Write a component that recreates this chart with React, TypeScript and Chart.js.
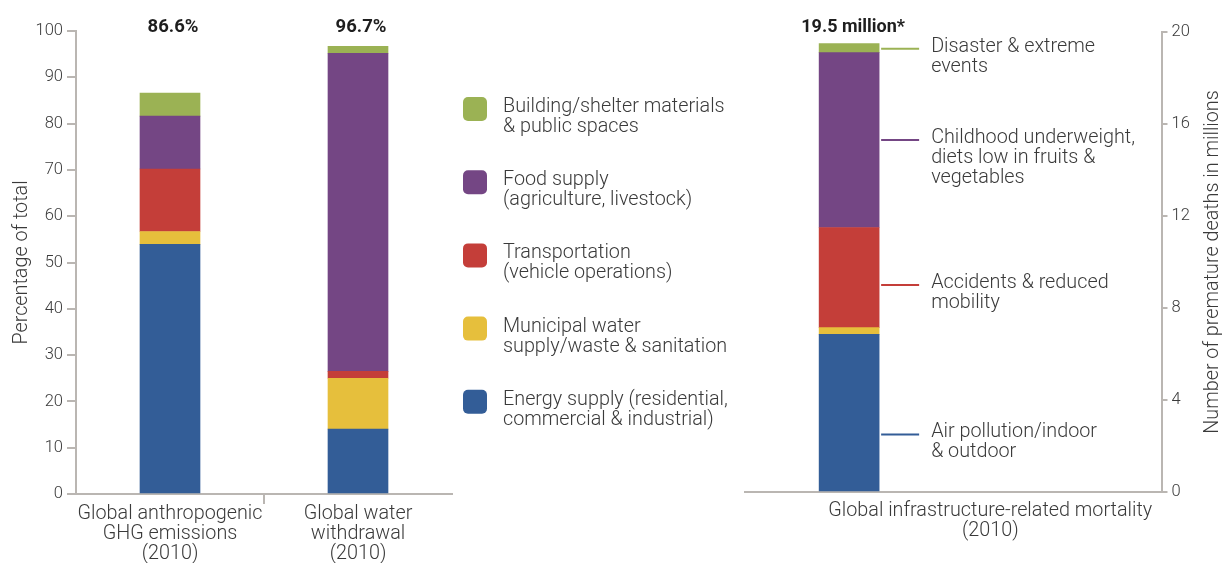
import React, { useEffect, useRef } from 'react';
import { Chart, registerables } from 'chart.js';

Chart.register(...registerables);

const FONT = 'Roboto, "Noto Sans", sans-serif';
const AXIS_COLOR = '#bab6b2';
const TEXT_COLOR = '#3a3a3a';
const LABEL_SIZE = 19.8;

// ---- Left panel data (percentage of total) ----
const leftCategories = [
  ['Global anthropogenic', 'GHG emissions', '(2010)'],
  ['Global water', 'withdrawal', '(2010)'],
];
const leftTotals = ['86.6%', '96.7%'];
const sectorNames = [
  'Energy supply (residential, commercial & industrial)',
  'Municipal water supply/waste & sanitation',
  'Transportation (vehicle operations)',
  'Food supply (agriculture, livestock)',
  'Building/shelter materials & public spaces',
];
const legendLines = [
  ['Energy supply (residential,', 'commercial & industrial)'],
  ['Municipal water', 'supply/waste & sanitation'],
  ['Transportation', '(vehicle operations)'],
  ['Food supply', '(agriculture, livestock)'],
  ['Building/shelter materials', '& public spaces'],
];
const sectorColors = ['#335d97', '#e6bf3c', '#c43e39', '#744684', '#9bb254'];
const energyValues = [53.9, 14.0];
const waterValues = [2.8, 11.0];
const transportValues = [13.5, 1.5];
const foodValues = [11.4, 68.7];
const buildingValues = [5.0, 1.5];
const leftYMax = 100;
const leftYStep = 10;
const leftYTitle = 'Percentage of total';

// ---- Right panel data (premature deaths, millions) ----
const mortalityCategory = ['Global infrastructure-related mortality', '(2010)'];
const mortalityTotal = '19.5 million*';
const airPollutionDeaths = 6.85;
const sanitationDeaths = 0.3;
const accidentDeaths = 4.35;
const dietDeaths = 7.6;
const disasterDeaths = 0.4;
const mortalityLabels = [
  ['Air pollution/indoor', '& outdoor'],
  [],
  ['Accidents & reduced', 'mobility'],
  ['Childhood underweight,', 'diets low in fruits &', 'vegetables'],
  ['Disaster & extreme', 'events'],
];
const mortalityLabelAnchors = [2.5, null, 9.0, 15.3, 19.27];
const rightYMax = 20;
const rightYStep = 4;
const rightYTitle = 'Number of premature deaths in millions';

const leftSeries = [energyValues, waterValues, transportValues, foodValues, buildingValues];
const rightSeries = [airPollutionDeaths, sanitationDeaths, accidentDeaths, dietDeaths, disasterDeaths];

const leftDecor = {
  id: 'leftDecor',
  afterDraw(chart: any) {
    const { ctx, chartArea } = chart;
    ctx.save();
    // totals above bars
    ctx.font = `bold 18.5px ${FONT}`;
    ctx.fillStyle = '#1e1e1e';
    ctx.textAlign = 'center';
    ctx.textBaseline = 'middle';
    const meta = chart.getDatasetMeta(0);
    leftTotals.forEach((t, i) => {
      const bar = meta.data[i];
      ctx.fillText(t, bar.x + 3, chartArea.top - 4);
    });
    // legend (top to bottom = reversed stack order)
    const n = chart.data.datasets.length;
    for (let k = 0; k < n; k++) {
      const di = n - 1 - k;
      const ds = chart.data.datasets[di];
      const x = chartArea.right + 11;
      const y = 97 + k * 73.2;
      ctx.fillStyle = ds.backgroundColor;
      ctx.beginPath();
      (ctx as any).roundRect(x, y, 24, 24, 5);
      ctx.fill();
      ctx.fillStyle = TEXT_COLOR;
      ctx.font = `300 ${LABEL_SIZE}px ${FONT}`;
      ctx.textAlign = 'left';
      ctx.textBaseline = 'middle';
      legendLines[di].forEach((line, j) => {
        ctx.fillText(line, x + 40, y + 10 + j * 20);
      });
    }
    ctx.restore();
  },
};

const rightDecor = {
  id: 'rightDecor',
  afterDraw(chart: any) {
    const { ctx, chartArea } = chart;
    ctx.save();
    const bar0 = chart.getDatasetMeta(0).data[0];
    ctx.font = `bold 18px ${FONT}`;
    ctx.fillStyle = '#1e1e1e';
    ctx.textAlign = 'center';
    ctx.textBaseline = 'middle';
    ctx.fillText(mortalityTotal, bar0.x + 4, chartArea.top - 5);

    const yScale = chart.scales.y;
    chart.data.datasets.forEach((ds: any, i: number) => {
      const anchor = mortalityLabelAnchors[i];
      if (anchor == null) return;
      const y = yScale.getPixelForValue(anchor);
      const x0 = bar0.x + bar0.width / 2 + 2;
      ctx.strokeStyle = ds.backgroundColor;
      ctx.lineWidth = 2;
      ctx.beginPath();
      ctx.moveTo(x0, y);
      ctx.lineTo(x0 + 38, y);
      ctx.stroke();
      ctx.fillStyle = TEXT_COLOR;
      ctx.font = `300 ${LABEL_SIZE}px ${FONT}`;
      ctx.textAlign = 'left';
      ctx.textBaseline = 'middle';
      mortalityLabels[i].forEach((line, j) => {
        ctx.fillText(line, x0 + 50, y - 2 + j * 20);
      });
    });

    // category label
    ctx.fillStyle = TEXT_COLOR;
    ctx.font = `300 ${LABEL_SIZE}px ${FONT}`;
    ctx.textAlign = 'center';
    ctx.textBaseline = 'middle';
    const cx = (chartArea.left + chartArea.right) / 2 + 37;
    mortalityCategory.forEach((line, j) => {
      ctx.fillText(line, cx, chartArea.bottom + 19 + j * 20);
    });

    // right axis title (reads bottom to top)
    ctx.save();
    ctx.translate(chart.width - 9, (chartArea.top + chartArea.bottom) / 2);
    ctx.rotate(-Math.PI / 2);
    ctx.fillText(rightYTitle, 0, 0);
    ctx.restore();
    ctx.restore();
  },
};

export default function App() {
  const leftRef = useRef<HTMLCanvasElement>(null);
  const rightRef = useRef<HTMLCanvasElement>(null);

  useEffect(() => {
    const left = new Chart(leftRef.current as HTMLCanvasElement, {
      type: 'bar',
      data: {
        labels: leftCategories as any,
        datasets: leftSeries.map((vals, i) => ({
          label: sectorNames[i],
          data: vals,
          backgroundColor: sectorColors[i],
          borderWidth: 0,
          barThickness: 60,
        })),
      },
      options: {
        responsive: false,
        animation: false,
        layout: { padding: { top: 31, left: 0, right: 288, bottom: 0 } },
        plugins: { legend: { display: false }, tooltip: { enabled: false } },
        scales: {
          x: {
            stacked: true,
            afterFit: (s: any) => { s.height = 69; },
            grid: {
              drawOnChartArea: false,
              tickLength: 10,
              lineWidth: 2,
              color: (c: any) => (c.index === 1 ? AXIS_COLOR : 'rgba(0,0,0,0)'),
            },
            border: { display: true, color: AXIS_COLOR, width: 2 },
            ticks: {
              color: TEXT_COLOR,
              padding: 0,
              maxRotation: 0,
              autoSkip: false,
              font: { family: FONT, size: LABEL_SIZE, weight: '300' as any, lineHeight: 20 / LABEL_SIZE },
            },
          },
          y: {
            stacked: true,
            min: 0,
            max: leftYMax,
            afterFit: (s: any) => { s.width = 76; },
            grid: { drawOnChartArea: false, tickLength: 9, lineWidth: 2, color: AXIS_COLOR },
            border: { display: true, color: AXIS_COLOR, width: 2 },
            ticks: {
              stepSize: leftYStep,
              color: TEXT_COLOR,
              padding: 4,
              font: { family: FONT, size: 16.5, weight: '300' as any },
            },
            title: {
              display: true,
              text: leftYTitle,
              color: TEXT_COLOR,
              padding: { top: 10, bottom: 0 },
              font: { family: FONT, size: LABEL_SIZE, weight: '300' as any },
            },
          },
        },
      },
      plugins: [leftDecor],
    });

    const right = new Chart(rightRef.current as HTMLCanvasElement, {
      type: 'bar',
      data: {
        labels: ['', ''],
        datasets: rightSeries.map((v, i) => ({
          label: sectorNames[i],
          data: [v, null],
          backgroundColor: sectorColors[i],
          borderWidth: 0,
          barThickness: 60,
        })),
      },
      options: {
        responsive: false,
        animation: false,
        layout: { padding: { top: 32, left: 45, right: 0, bottom: 0 } },
        plugins: { legend: { display: false }, tooltip: { enabled: false } },
        scales: {
          x: {
            stacked: true,
            afterFit: (s: any) => { s.height = 71; },
            grid: { display: true, drawOnChartArea: false, drawTicks: false, color: 'rgba(0,0,0,0)' },
            border: { display: true, color: AXIS_COLOR, width: 2 },
            ticks: { display: false },
          },
          y: {
            stacked: true,
            position: 'right',
            min: 0,
            max: rightYMax,
            afterFit: (s: any) => { s.width = 60.5; },
            grid: { drawOnChartArea: false, tickLength: 6, lineWidth: 2, color: AXIS_COLOR },
            border: { display: true, color: AXIS_COLOR, width: 2 },
            ticks: {
              stepSize: rightYStep,
              color: TEXT_COLOR,
              padding: 4,
              font: { family: FONT, size: 16.5, weight: '300' as any },
            },
          },
        },
      },
      plugins: [rightDecor],
    });

    return () => {
      left.destroy();
      right.destroy();
    };
  }, []);

  return (
    <div style={{ position: 'fixed', left: 0, top: 0, width: 1222, height: 563, background: '#fff' }}>
      <canvas ref={leftRef} width={740} height={563} style={{ position: 'absolute', left: 0, top: 0 }} />
      <canvas ref={rightRef} width={522} height={563} style={{ position: 'absolute', left: 700, top: 0 }} />
    </div>
  );
}
